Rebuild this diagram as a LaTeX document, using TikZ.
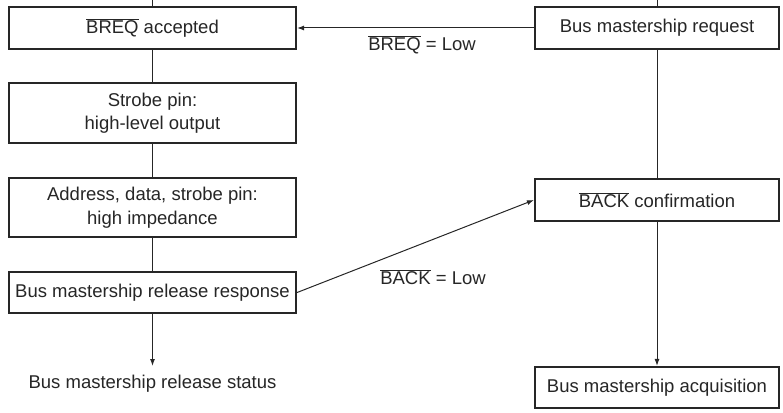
\documentclass[tikz,border=0pt]{standalone}
\usepackage{fontspec}
\setmainfont{Liberation Sans}
\usepackage{tikz}
\usetikzlibrary{arrows.meta, positioning}
\newcommand{\ovl}[1]{$\overline{\hbox{#1}}$}

\begin{document}
\begin{tikzpicture}[
  x=1pt, y=-1pt,
  flowbox/.style={rectangle, draw=black!85, line width=2.2pt, fill=white,
    font=\fontsize{18.5}{23.5}\selectfont, text=black!85, align=center,
    inner sep=0pt},
  leftbox/.style={flowbox, minimum width=287pt},
  rightbox/.style={flowbox, minimum width=244pt},
  lbl/.style={font=\fontsize{18.5}{23.5}\selectfont, text=black!85, inner sep=0pt},
  arr/.style={-{Latex[length=7pt, width=5pt]}, line width=1pt, black!85},
  ln/.style={line width=1pt, black!85}
]
\useasboundingbox (0,0) rectangle (783,412);

% left column
\node[leftbox, minimum height=42pt] (breq) at (152.5,28) {\ovl{BREQ} accepted};
\node[leftbox, minimum height=60pt] (strobe) at (152.5,113) {Strobe pin:\\high-level output};
\node[leftbox, minimum height=59pt] (addr) at (152.5,207.5) {Address, data, strobe pin:\\high impedance};
\node[leftbox, minimum height=41pt] (resp) at (152.5,292.5) {Bus mastership release response};
\node[lbl] (status) at (152.5,384) {Bus mastership release status};

% right column
\node[rightbox, minimum height=42pt] (req) at (657,28) {Bus mastership request};
\node[rightbox, minimum height=42pt] (backc) at (657,200) {\ovl{BACK} confirmation};
\node[rightbox, minimum height=41pt] (acq) at (657,387.5) {Bus mastership acquisition};

\coordinate (ltop) at (152.5,0);
\coordinate (rtop) at (657,0);
\coordinate (lend) at (152.5,366);

\draw[ln] (ltop)--(breq);
\draw[ln] (breq)--(strobe);
\draw[ln] (strobe)--(addr);
\draw[ln] (addr)--(resp);
\draw[arr] (resp)--(lend);

\draw[ln] (rtop)--(req);
\draw[ln] (req)--(backc);
\draw[arr] (backc)--(acq);

\draw[arr] (req.west)--(breq.east);
\draw[arr] (resp.east)--(backc.west);

\node[lbl] (lowreq) at (422,45) {\ovl{BREQ} = Low};
\node[lbl] (lowack) at (433,277) {\ovl{BACK} = Low};

\end{tikzpicture}
\end{document}
